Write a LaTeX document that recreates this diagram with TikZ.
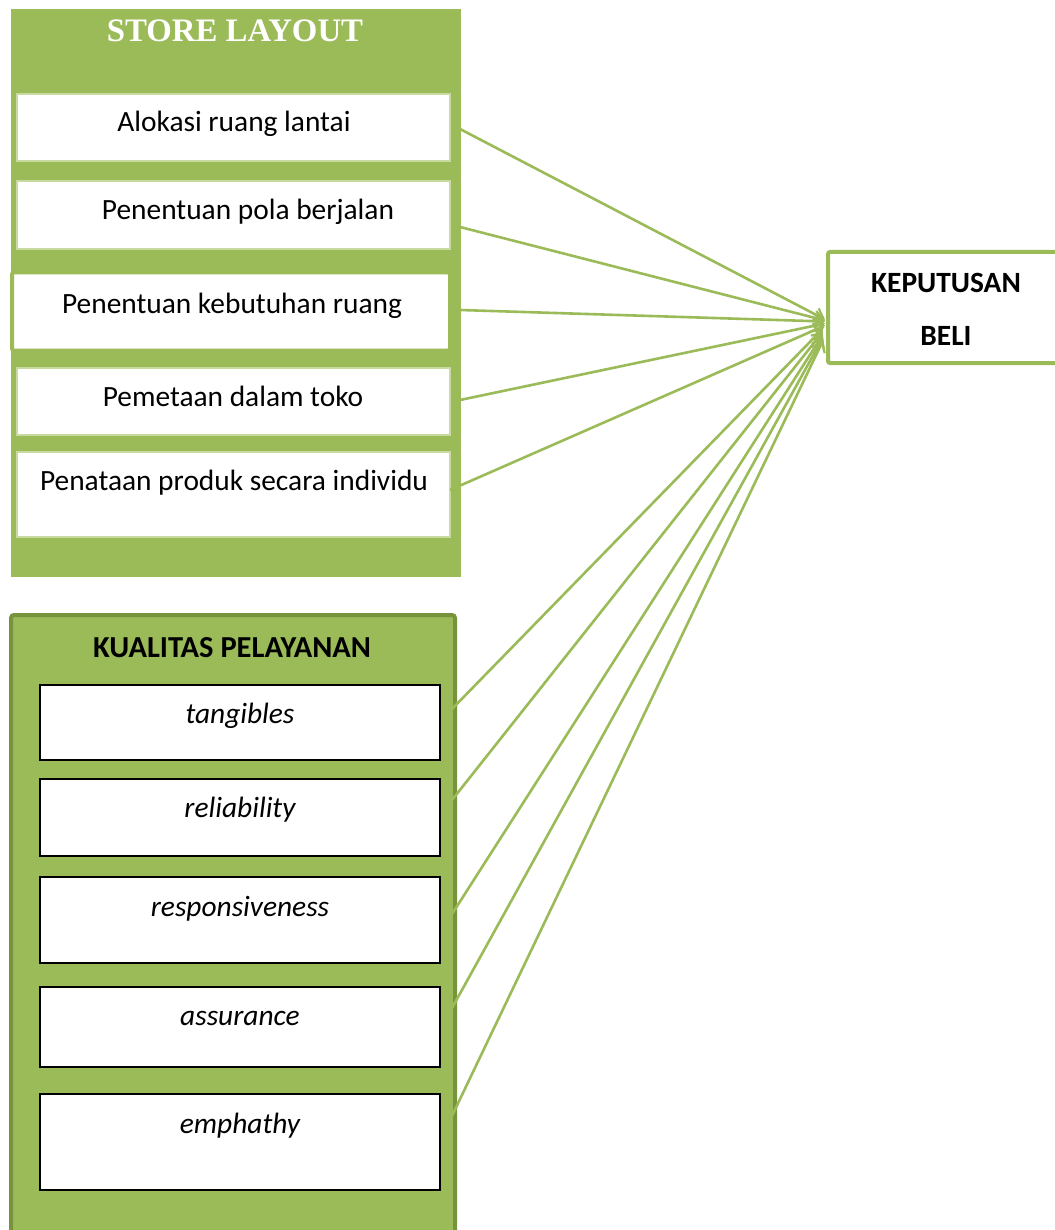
\documentclass[tikz,border=0pt]{standalone}
\usepackage{fontspec}
\setmainfont{Carlito}
\newfontfamily\tnr{Liberation Serif}
\usetikzlibrary{arrows.meta,calc}
\definecolor{og}{HTML}{9BBB59}
\definecolor{ogd}{HTML}{77933C}
\definecolor{ogl}{HTML}{C9DAA0}
\tikzset{
  txt/.style={anchor=base, inner sep=0pt, font=\fontsize{29.4}{34}\selectfont},
  itx/.style={txt, font=\fontsize{29.4}{34}\selectfont\itshape},
  btx/.style={txt, font=\fontsize{29.4}{34}\selectfont\bfseries},
  wbox/.style={rectangle, fill=white, draw=ogl, line width=1.2pt, inner sep=0pt},
  kbox/.style={rectangle, fill=white, draw=black, line width=1.3pt, inner sep=0pt},
  conn/.style={draw=og, line width=2.6pt, -{Straight Barb[length=9pt,width=14pt,line width=2.2pt]}},
}
\begin{document}
\begin{tikzpicture}[x=1pt,y=-1pt]
\useasboundingbox (0,0) rectangle (1054,1230);
% ---- store layout panel
\node[rectangle, fill=og, inner sep=0pt, minimum width=450pt, minimum height=568pt] (sl) at (236,293) {};
\node[anchor=base, inner sep=0pt, text=white, font=\tnr\bfseries\fontsize{32.8}{36}\selectfont] (slt) at (235,42) {STORE LAYOUT};
\node[wbox, minimum width=433pt, minimum height=67pt] (a1) at (233.5,127.5) {};
\node[wbox, minimum width=433pt, minimum height=68pt] (a2) at (233.5,215) {};
\node[rectangle, fill=white, draw=og, line width=4pt, rounded corners=2pt, inner sep=0pt, minimum width=438pt, minimum height=78pt] (a3) at (231,311.5) {};
\node[wbox, minimum width=433pt, minimum height=67pt] (a4) at (233.5,401.5) {};
\node[wbox, minimum width=433pt, minimum height=85pt] (a5) at (233.5,494.5) {};
\node[txt] (a1t) at (234,132) {Alokasi ruang lantai};
\node[txt] (a2t) at (248,220) {Penentuan pola berjalan};
\node[txt] (a3t) at (232,313) {Penentuan kebutuhan ruang};
\node[txt] (a4t) at (233,406) {Pemetaan dalam toko};
\node[txt] (a5t) at (234,490) {Penataan produk secara individu};
% ---- kualitas panel
\node[rectangle, fill=og, draw=ogd, line width=4pt, rounded corners=3pt, inner sep=0pt, minimum width=444pt, minimum height=640pt] (kp) at (233,935) {};
\node[btx, font=\fontsize{30.5}{34}\selectfont\bfseries] (kpt) at (232,657) {KUALITAS PELAYANAN};
\node[kbox, minimum width=400pt, minimum height=75pt] (t1) at (240,722.5) {};
\node[kbox, minimum width=400pt, minimum height=77pt] (t2) at (240,817.5) {};
\node[kbox, minimum width=400pt, minimum height=86pt] (t3) at (240,920) {};
\node[kbox, minimum width=400pt, minimum height=80pt] (t4) at (240,1027) {};
\node[kbox, minimum width=400pt, minimum height=96pt] (t5) at (240,1142) {};
\node[itx] (t1t) at (240,723) {tangibles};
\node[itx] (t2t) at (240,817) {reliability};
\node[itx] (t3t) at (240,916) {responsiveness};
\node[itx] (t4t) at (240,1025) {assurance};
\node[itx] (t5t) at (240,1133) {emphathy};
% ---- keputusan beli
\node[rectangle, fill=white, draw=og, line width=4pt, rounded corners=2pt, inner sep=0pt, minimum width=234pt, minimum height=111pt] (kb) at (945,307.5) {};
\node[btx] (kb1) at (946,292) {KEPUTUSAN};
\node[btx] (kb2) at (946,345) {BELI};
% ---- connector coordinates
\coordinate (s1) at (460,129);
\coordinate (s2) at (460,227);
\coordinate (s3) at (460,310);
\coordinate (s4) at (460,400);
\coordinate (s5) at (450,490);
\coordinate (u1) at (450,711);
\coordinate (u2) at (452,800);
\coordinate (u3) at (452,914);
\coordinate (u4) at (452,1008);
\coordinate (u5) at (450,1120);
\coordinate (e1) at ($(kb.west)+(-1,12)$);
\coordinate (e2) at ($(kb.west)+(-1,13)$);
\coordinate (e3) at ($(kb.west)+(-1,14)$);
\coordinate (e4) at ($(kb.west)+(-1,16)$);
\coordinate (e5) at ($(kb.west)+(-1,18)$);
\coordinate (f1) at ($(kb.west)+(-3,21)$);
\coordinate (f2) at ($(kb.west)+(-3,24)$);
\coordinate (f3) at ($(kb.west)+(-3,27)$);
\coordinate (f4) at ($(kb.west)+(-3,30)$);
\coordinate (f5) at ($(kb.west)+(-3,33)$);
\foreach \a/\b in {s1/e1,s2/e2,s3/e3,s4/e4,s5/e5,u1/f1,u2/f2,u3/f3,u4/f4,u5/f5}
  \draw[conn] (\a) -- (\b);
\end{tikzpicture}
\end{document}
